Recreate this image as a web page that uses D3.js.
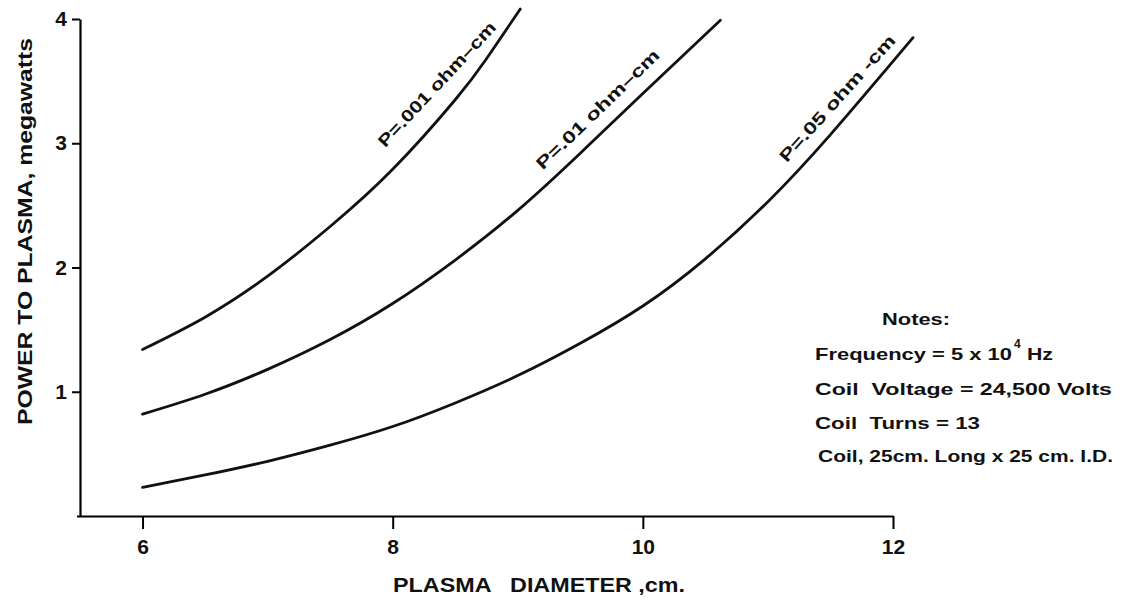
<!DOCTYPE html>
<html>
<head>
<meta charset="utf-8">
<script src="https://cdn.jsdelivr.net/npm/d3@7"></script>
<style>
body { margin: 0; background: #fff; }
text { font-family: "Liberation Sans", Arial, sans-serif; font-weight: bold; fill: #111; }
</style>
</head>
<body>
<svg id="chart" width="1125" height="599"></svg>
<script>
var xTicks = [6, 8, 10, 12]
var yTicks = [1, 2, 3, 4]

var diameter001 = [6.0, 6.5, 7.0, 7.5, 8.0, 8.5, 8.75, 9.02]
var power001 = [1.34, 1.60, 1.93, 2.33, 2.79, 3.35, 3.68, 4.08]

var diameter01 = [6.0, 6.5, 7.0, 7.5, 8.0, 8.5, 9.0, 9.5, 10.0, 10.62]
var power01 = [0.82, 0.98, 1.18, 1.42, 1.71, 2.06, 2.46, 2.92, 3.40, 3.99]

var diameter05 = [6.0, 6.5, 7.0, 7.5, 8.0, 8.5, 9.0, 9.5, 10.0, 10.5, 11.0, 11.5, 12.16]
var power05 = [0.23, 0.33, 0.44, 0.57, 0.72, 0.91, 1.13, 1.39, 1.69, 2.07, 2.53, 3.07, 3.85]

var curveLabels = ["P=.001 ohm\u2013cm", "P=.01 ohm\u2013cm", "P=.05 ohm -cm"]

var notes = [
    "Coil  Voltage = 24,500 Volts",
    "Coil  Turns = 13",
    "Coil, 25cm. Long x 25 cm. I.D."
]

var svg = d3.select("#chart")

var x = d3.scaleLinear().domain([5.5, 12]).range([80, 893])
var y = d3.scaleLinear().domain([0, 4]).range([516, 19])

var line = d3.line()
    .x(function(d) { return x(d[0]) })
    .y(function(d) { return y(d[1]) })
    .curve(d3.curveNatural)

// axes
var yAxis = svg.append("g")
    .attr("transform", "translate(80,0)")
    .call(d3.axisLeft(y).tickValues(yTicks).tickSize(8).tickSizeOuter(0).tickFormat(d3.format("d")))
yAxis.select(".domain").attr("stroke-width", 2.2)
yAxis.selectAll(".tick line").attr("stroke-width", 2)
yAxis.selectAll(".tick text")
    .attr("x", -13)
    .style("font-size", "21px")
    .style("font-family", "'Liberation Sans', Arial, sans-serif")
    .style("font-weight", "bold")

var xAxis = svg.append("g")
    .attr("transform", "translate(0,516)")
    .call(d3.axisBottom(x).tickValues(xTicks).tickSize(13).tickSizeOuter(0).tickFormat(d3.format("d")))
xAxis.select(".domain").attr("stroke-width", 2.2).attr("d", "M77,0.5H893.5")
xAxis.selectAll(".tick line").attr("stroke-width", 2)
xAxis.selectAll(".tick text")
    .attr("y", 23)
    .style("font-size", "21px")
    .style("font-family", "'Liberation Sans', Arial, sans-serif")
    .style("font-weight", "bold")

// curves
var series = [
    d3.zip(diameter001, power001),
    d3.zip(diameter01, power01),
    d3.zip(diameter05, power05)
]

svg.selectAll(".curve")
    .data(series)
    .enter().append("path")
    .attr("class", "curve")
    .attr("d", line)
    .attr("fill", "none")
    .attr("stroke", "#111")
    .attr("stroke-width", 2.8)
    .attr("stroke-linecap", "round")

// curve labels, anchor in data units and angle
var labelAnchors = [[7.94, 2.96, -47], [9.20, 2.78, -44], [11.15, 2.84, -48]]

svg.selectAll(".clabel")
    .data(curveLabels)
    .enter().append("text")
    .attr("class", "clabel")
    .attr("transform", function(d, i) {
        var a = labelAnchors[i]
        return "translate(" + x(a[0]) + "," + y(a[1]) + ") rotate(" + a[2] + ")"
    })
    .attr("textLength", 164)
    .attr("lengthAdjust", "spacingAndGlyphs")
    .style("font-size", "17px")
    .text(function(d) { return d })

// axis titles
svg.append("text")
    .attr("transform", "translate(32,425) rotate(-90)")
    .attr("textLength", 387)
    .attr("lengthAdjust", "spacingAndGlyphs")
    .style("font-size", "20px")
    .text("POWER TO PLASMA, megawatts")

svg.append("text")
    .attr("x", 393)
    .attr("y", 592)
    .attr("textLength", 292)
    .attr("lengthAdjust", "spacingAndGlyphs")
    .style("font-size", "20px")
    .style("white-space", "pre")
    .text("PLASMA   DIAMETER ,cm.")

// notes
svg.append("text")
    .attr("x", 882).attr("y", 325)
    .attr("textLength", 68)
    .attr("lengthAdjust", "spacingAndGlyphs")
    .style("font-size", "17px")
    .text("Notes:")

svg.append("text")
    .attr("x", 815).attr("y", 360)
    .attr("textLength", 197)
    .attr("lengthAdjust", "spacingAndGlyphs")
    .style("font-size", "17px")
    .text("Frequency = 5 x 10")
svg.append("text")
    .attr("x", 1014).attr("y", 348)
    .style("font-size", "12px")
    .text("4")
svg.append("text")
    .attr("x", 1027).attr("y", 360)
    .attr("textLength", 26)
    .attr("lengthAdjust", "spacingAndGlyphs")
    .style("font-size", "17px")
    .text("Hz")

var noteWidths = [297, 165, 295]
svg.selectAll(".note")
    .data(notes)
    .enter().append("text")
    .attr("class", "note")
    .attr("x", function(d, i) { return i == 2 ? 818 : 815 })
    .attr("y", function(d, i) { return 395 + i * 33.5 })
    .attr("textLength", function(d, i) { return noteWidths[i] })
    .attr("lengthAdjust", "spacingAndGlyphs")
    .style("font-size", "17px")
    .style("white-space", "pre")
    .text(function(d) { return d })
</script>
</body>
</html>
